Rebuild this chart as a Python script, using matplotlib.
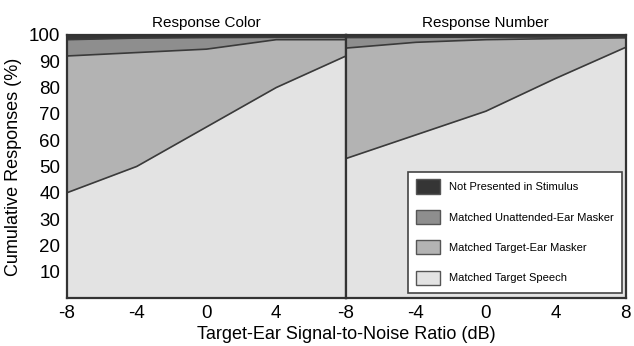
import numpy as np
import matplotlib.pyplot as plt

plt.rcParams['font.family'] = ['Liberation Sans', 'DejaVu Sans']
plt.rcParams['axes.unicode_minus'] = False

snr = [-8, -4, 0, 4, 8]

# cumulative tops of each band (%)
color_speech = [40, 50, 65, 80, 92]
color_target_masker = [92, 93.3, 94.6, 98.2, 98.2]
color_unattended = [98.2, 98.8, 99.0, 99.1, 99.1]

number_speech = [53, 62, 71, 83.5, 95.3]
number_target_masker = [95, 97.2, 98.2, 98.6, 98.9]
number_unattended = [99.0, 99.1, 99.2, 99.2, 99.3]

labels = ['Not Presented in Stimulus', 'Matched Unattended-Ear Masker',
          'Matched Target-Ear Masker', 'Matched Target Speech']
colors = ['#353535', '#8e8e8e', '#b3b3b3', '#e3e3e3']
edge = '#3a3a3a'


def draw_panel(ax, speech, target, unatt, title):
    x = np.array(snr)
    tops = [np.array(speech), np.array(target), np.array(unatt), np.full(len(x), 100.0)]
    bottom = np.zeros(len(x))
    fills = colors[::-1]
    for top, c in zip(tops, fills):
        ax.fill_between(x, bottom, top, color=c, lw=0)
        bottom = top
    for top in tops[:3]:
        ax.plot(x, top, color=edge, lw=1.2)
    ax.set_xlim(-8, 8)
    ax.set_ylim(0, 100)
    ax.set_title(title, fontsize=11, pad=6)
    ax.tick_params(length=0, labelsize=13.5, pad=5)
    for s in ax.spines.values():
        s.set_color('#333333')
        s.set_linewidth(1.6)


fig = plt.figure(figsize=(6.34, 3.46), dpi=100)
ax1 = fig.add_axes([0.1057, 0.139, 0.4400, 0.760])
ax2 = fig.add_axes([0.5457, 0.139, 0.4413, 0.760])

draw_panel(ax1, color_speech, color_target_masker, color_unattended, 'Response Color')
draw_panel(ax2, number_speech, number_target_masker, number_unattended, 'Response Number')

ax1.set_xticks([-8, -4, 0, 4])
ax1.set_yticks(range(10, 101, 10))
ax2.set_xticks([-8, -4, 0, 4, 8])
ax2.set_yticks([])

ax1.set_ylabel('Cumulative Responses (%)', fontsize=13, labelpad=5)
fig.text(0.5457, 0.02, 'Target-Ear Signal-to-Noise Ratio (dB)', ha='center',
         fontsize=13)

handles = [plt.Rectangle((0, 0), 1, 1, facecolor=c, edgecolor='#555555', lw=1)
           for c in colors]
leg = ax2.legend(handles, labels, loc='lower right', bbox_to_anchor=(0.985, 0.02),
                 fontsize=8, frameon=True, fancybox=False, labelspacing=1.45,
                 handlelength=2.2, handleheight=1.6, handletextpad=0.8,
                 borderpad=0.7, borderaxespad=0, framealpha=1)
leg.get_frame().set_edgecolor('#444444')
leg.get_frame().set_linewidth(1.2)
leg.get_frame().set_facecolor('white')

fig.savefig('out.png', dpi=100)
